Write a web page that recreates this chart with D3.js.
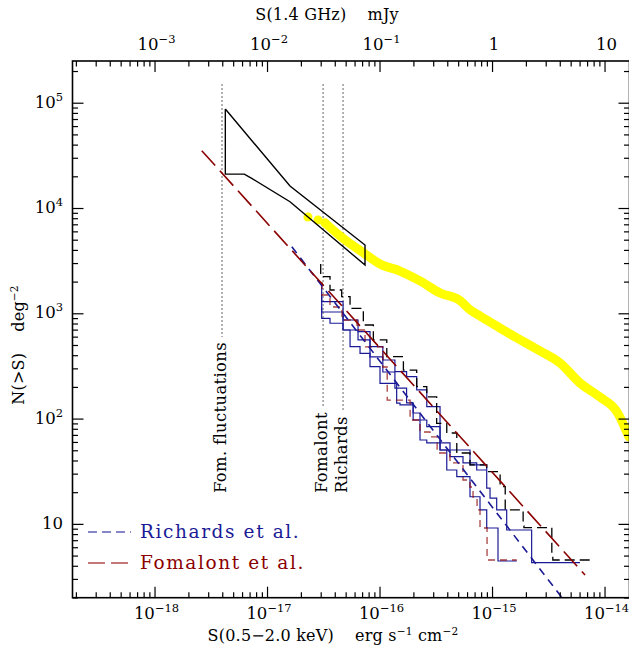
<!DOCTYPE html>
<html lang="en">
<head>
<meta charset="UTF-8">
<title>N(&gt;S) counts</title>
<script src="https://d3js.org/d3.v7.min.js"></script>
<style>
  body { margin: 0; background: #fff; }
  text { font-family: "DejaVu Serif", "Liberation Serif", serif; fill: #000; }
</style>
</head>
<body>
<svg id="chart" width="629" height="650"></svg>
<script>
// ---- data (X-ray flux in erg s^-1 cm^-2, radio in mJy, N in deg^-2) ----
// black dashed: deep field counts
const blackS = [3.00e-17, 3.63e-17, 4.61e-17, 5.47e-17, 7.18e-17, 8.81e-17, 1.16e-16, 1.63e-16, 2.14e-16, 2.63e-16, 3.22e-16, 3.96e-16, 4.86e-16, 6.37e-16, 8.97e-16, 1.18e-15, 1.31e-15, 1.50e-15, 1.89e-15, 1.92e-15, 3.40e-15, 3.47e-15, 7.69e-15];
const blackN = [2940, 2228, 1665, 1438, 1116, 774, 558, 387, 289, 201, 161, 90.2, 73.0, 47.1, 36.3, 31.3, 22.6, 13.6, 13.6, 9.55, 9.2, 5.07, 4.54];

// blue solid: radio-selected sources (upper)
const blueUpS = [3.06e-17, 4.74e-17, 6.44e-17, 8.23e-17, 1.07e-16, 1.37e-16, 1.74e-16, 2.14e-16, 2.63e-16, 3.45e-16, 6.37e-16, 8.97e-16, 9.60e-16, 1.10e-15, 1.35e-15, 1.39e-15, 2.25e-15, 2.29e-15, 6.05e-15];
const blueUpN = [1927, 1289, 864, 669, 482, 360, 279, 250, 187, 130, 50.3, 36.3, 21.9, 17.6, 13.6, 8.75, 8.75, 4.28, 4.28];

// blue solid: radio-selected sources (middle)
const blueMidS = [3.06e-17, 4.74e-17, 6.44e-17, 8.23e-17, 1.07e-16, 1.37e-16, 1.74e-16, 1.99e-16, 2.63e-16, 3.45e-16, 4.23e-16, 5.52e-16, 7.31e-16, 8.97e-16];
const blueMidN = [1492, 1029, 694, 558, 385, 277, 195, 141, 97, 83.8, 58.7, 43.5, 37.9, 32.5];

// blue solid: radio-selected sources (lower)
const blueLoS = [3.06e-17, 3.63e-17, 4.74e-17, 5.47e-17, 6.71e-17, 8.23e-17, 1.01e-16, 1.42e-16, 1.52e-16, 1.99e-16, 2.29e-16, 2.63e-16, 3.45e-16, 3.96e-16, 4.86e-16, 6.37e-16, 7.82e-16, 8.97e-16, 1.13e-15, 1.66e-15];
const blueLoN = [1156, 896, 804, 694, 482, 417, 311, 216, 140, 135, 113, 62.6, 58.7, 50.3, 32.5, 28.1, 18.1, 13.6, 9.14, 4.44];

// red dashed steps
const redStepS = [3.08e-17, 3.63e-17, 4.64e-17, 6.31e-17, 7.43e-17, 1.07e-16, 1.17e-16, 1.87e-16, 2.29e-16, 2.81e-16, 3.25e-16, 4.23e-16, 5.52e-16, 6.37e-16, 6.78e-16, 7.36e-16, 7.82e-16, 9.03e-16, 1.13e-15, 1.66e-15];
const redStepN = [1983, 1492, 1148, 864, 694, 479, 309, 150, 97, 74.6, 66.9, 47.1, 37.9, 26.1, 22.4, 18.0, 13.6, 9.14, 4.54, 4.54];

// power-law fits (end points)
const fomalontS = [2.63e-18, 6.71e-15];
const fomalontN = [35000, 3.27];
const richardsS = [1.66e-17, 4.9e-15];
const richardsN = [4290, 1.6];

// fluctuation constraint (black outline)
const boxS = [4.26e-18, 4.26e-18, 6.28e-18, 7.31e-18, 1.60e-17, 7.43e-17, 7.43e-17, 1.60e-17, 4.26e-18];
const boxN = [87100, 21000, 21000, 19100, 11480, 2870, 4450, 16180, 87100];

// radio counts at 1.4 GHz (yellow), flux in mJy
const radioS = [0.0231, 0.0284, 0.0328, 0.0446, 0.0743, 0.101, 0.152, 0.229, 0.345, 0.520, 0.637, 0.782, 1.18, 1.45, 2.67, 4.02, 6.05, 9.12, 12.9, 16.5];
const radioN = [8220, 7690, 7210, 5420, 3660, 2940, 2520, 2030, 1560, 1320, 1080, 942, 724, 635, 439, 337, 218, 160, 116, 66.8];

// flux limits (vertical dotted lines)
const limitS = [3.98e-18, 3.15e-17, 4.74e-17];
const limitLabels = ["Fom. fluctuations", "Fomalont", "Richards"];

const xDecades = [-18, -17, -16, -15, -14];
const topDecades = [-3, -2, -1, 0, 1];
const yDecades = [1, 2, 3, 4, 5];

// ---- layout ----
const svg = d3.select("#chart");
const L = 72.5, R = 629.5, T = 61, B = 597.7;

const x = d3.scaleLog().domain([1.866e-19, 1.667e-14]).range([L, R]);
const xr = d3.scaleLog().domain([1.866e-4, 16.67]).range([L, R]);
const y = d3.scaleLog().domain([1.99, 2.49e5]).range([B, T]);

const navy = "#1a1a96", dred = "#8b0000";

svg.append("clipPath").attr("id", "clip")
  .append("rect").attr("x", L).attr("y", T).attr("width", R - L).attr("height", B - T);

const plot = svg.append("g").attr("clip-path", "url(#clip)");

function minors(lo, hi) {
  const out = [];
  for (let d = lo; d <= hi; d++) for (let k = 2; k <= 9; k++) out.push(k * Math.pow(10, d));
  return out;
}

// ---- axes (ticks inside) ----
function tickAxis(axisFn, scale, majors, mins, transform) {
  svg.append("g").attr("transform", transform)
    .call(axisFn(scale).tickValues(majors).tickSize(-11).tickFormat(""))
    .call(g => g.select(".domain").remove());
  svg.append("g").attr("transform", transform)
    .call(axisFn(scale).tickValues(mins.filter(v => v >= scale.domain()[0] && v <= scale.domain()[1])).tickSize(-5.5).tickFormat(""))
    .call(g => g.select(".domain").remove());
}
tickAxis(d3.axisBottom, x, xDecades.map(d => Math.pow(10, d)), minors(-19, -14), `translate(0,${B})`);
tickAxis(d3.axisTop, xr, topDecades.map(d => Math.pow(10, d)), minors(-4, 1), `translate(0,${T})`);
tickAxis(d3.axisLeft, y, yDecades.map(d => Math.pow(10, d)), minors(0, 5), `translate(${L},0)`);
tickAxis(d3.axisRight, y, yDecades.map(d => Math.pow(10, d)), minors(0, 5), `translate(${R},0)`);
svg.selectAll(".tick line").attr("stroke", "#000").attr("stroke-width", 1.2);

svg.append("rect").attr("x", L).attr("y", T).attr("width", R - L).attr("height", B - T)
  .attr("fill", "none").attr("stroke", "#000").attr("stroke-width", 1.6);

function powLabel(sel, exp, xPos, yPos, anchor) {
  const t = sel.append("text").attr("x", xPos).attr("y", yPos)
    .attr("text-anchor", anchor).attr("font-size", 16.5);
  if (exp === 0) { t.text("1"); return; }
  if (exp === 1) { t.text("10"); return; }
  t.append("tspan").text("10");
  t.append("tspan").attr("dy", -7).attr("font-size", 11.5).text(exp < 0 ? "\u2212" + (-exp) : exp);
}
xDecades.forEach(d => powLabel(svg, d, x(Math.pow(10, d)) + 2, 618.5, "middle"));
topDecades.forEach(d => powLabel(svg, d, xr(Math.pow(10, d)) + 2, 49.5, "middle"));
yDecades.forEach(d => powLabel(svg, d, 63, y(Math.pow(10, d)) + 5, "end"));

// axis titles
const bt = svg.append("text").attr("x", 333).attr("y", 640.5).attr("text-anchor", "middle")
  .attr("font-size", 16).attr("letter-spacing", 0.2);
bt.append("tspan").text("S(0.5\u22122.0 keV)\u00a0\u00a0\u00a0\u00a0erg s");
bt.append("tspan").attr("dy", -6).attr("font-size", 10.5).text("\u22121");
bt.append("tspan").attr("dy", 6).text(" cm");
bt.append("tspan").attr("dy", -6).attr("font-size", 10.5).text("\u22122");

svg.append("text").attr("x", 327).attr("y", 19.5).attr("text-anchor", "middle")
  .attr("font-size", 16).attr("letter-spacing", 0.2)
  .text("S(1.4 GHz)\u00a0\u00a0\u00a0\u00a0mJy");

const lt = svg.append("text").attr("transform", "translate(24,345) rotate(-90)")
  .attr("text-anchor", "middle").attr("font-size", 16).attr("letter-spacing", 0.2);
lt.append("tspan").text("N(>S)\u00a0\u00a0\u00a0\u00a0deg");
lt.append("tspan").attr("dy", -6).attr("font-size", 10.5).text("\u22122");

// ---- marks ----
const zip = (xs, ys) => xs.map((v, i) => [v, ys[i]]);

// vertical dotted limits with rotated labels
limitS.forEach((s, i) => {
  const px = x(s);
  const lab = svg.append("text").attr("transform", `translate(${px + 4},493) rotate(-90)`)
    .attr("font-size", 16.5).attr("letter-spacing", 0.3).text(limitLabels[i]);
  const len = lab.node().getComputedTextLength();
  plot.append("line").attr("x1", px).attr("x2", px)
    .attr("y1", y(1.5e5)).attr("y2", 493 - len - 5)
    .attr("stroke", "#555").attr("stroke-width", 1.2).attr("stroke-dasharray", "1.5,2.5");
});

// yellow radio counts
const radioPts = zip(radioS, radioN);
plot.append("path").datum(radioPts.slice(2))
  .attr("d", d3.line().x(d => xr(d[0])).y(d => y(d[1])).curve(d3.curveMonotoneX))
  .attr("fill", "none").attr("stroke", "#ffff00").attr("stroke-width", 9)
  .attr("stroke-linejoin", "round").attr("stroke-linecap", "round");
plot.selectAll("circle.radio").data(radioPts.slice(0, 3)).enter().append("circle")
  .attr("class", "radio").attr("cx", d => xr(d[0])).attr("cy", d => y(d[1])).attr("r", 4.5)
  .attr("fill", "#ffff00");

// fluctuation outline
plot.append("path").datum(zip(boxS, boxN))
  .attr("d", d3.line().x(d => x(d[0])).y(d => y(d[1])))
  .attr("fill", "none").attr("stroke", "#000").attr("stroke-width", 1.4);

const step = d3.line().x(d => x(d[0])).y(d => y(d[1])).curve(d3.curveStepBefore);
const straight = d3.line().x(d => x(d[0])).y(d => y(d[1]));

[[blueLoS, blueLoN], [blueMidS, blueMidN], [blueUpS, blueUpN]].forEach(([s, n]) => {
  plot.append("path").datum(zip(s, n)).attr("d", step)
    .attr("fill", "none").attr("stroke", navy).attr("stroke-width", 1.2);
});
plot.append("path").datum(zip(redStepS, redStepN)).attr("d", step)
  .attr("fill", "none").attr("stroke", dred).attr("stroke-opacity", 0.75)
  .attr("stroke-width", 1.3).attr("stroke-dasharray", "7,5");
plot.append("path").datum(zip(blackS, blackN)).attr("d", step)
  .attr("fill", "none").attr("stroke", "#000").attr("stroke-width", 1.3).attr("stroke-dasharray", "10,5");

plot.append("path").datum(zip(richardsS, richardsN)).attr("d", straight)
  .attr("fill", "none").attr("stroke", navy).attr("stroke-width", 1.6).attr("stroke-dasharray", "8,6");
plot.append("path").datum(zip(fomalontS, fomalontN)).attr("d", straight)
  .attr("fill", "none").attr("stroke", dred).attr("stroke-width", 1.6).attr("stroke-dasharray", "20,7");

// ---- legend ----
const legend = [
  { name: "Richards et al.", color: navy, dash: "9,5" },
  { name: "Fomalont et al.", color: dred, dash: "17,6" }
];
legend.forEach((d, i) => {
  const ly = 532 + i * 31;
  svg.append("line").attr("x1", 88).attr("x2", 131).attr("y1", ly).attr("y2", ly)
    .attr("stroke", d.color).attr("stroke-opacity", 0.7).attr("stroke-width", 1.5)
    .attr("stroke-dasharray", d.dash);
  svg.append("text").attr("x", 140).attr("y", ly + 6).attr("font-size", 18.5)
    .attr("letter-spacing", 1.6).style("fill", d.color).text(d.name);
});
</script>
</body>
</html>
